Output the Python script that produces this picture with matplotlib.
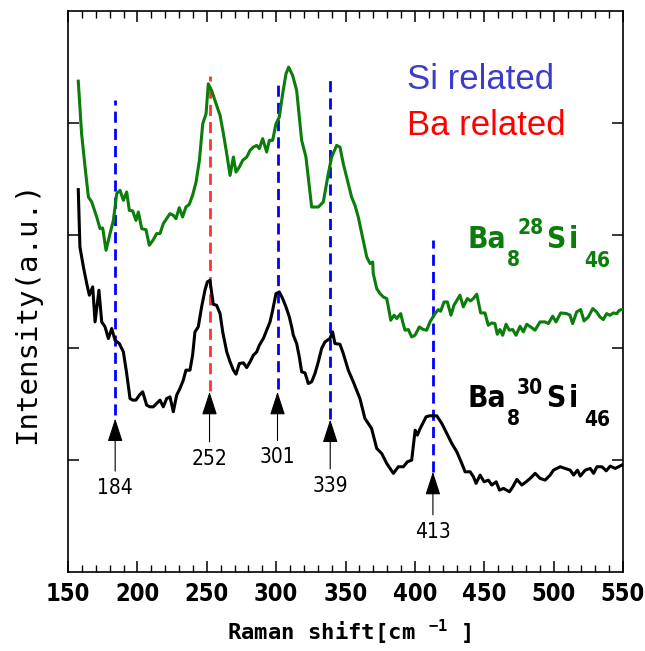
import numpy as np
import matplotlib
matplotlib.use('Agg')
import matplotlib.pyplot as plt
from matplotlib import font_manager
from matplotlib.font_manager import FontProperties
from matplotlib.ticker import MultipleLocator, NullFormatter

# buscar una fuente sans estrecha (Narrow / Condensed) instalada
def find_narrow(bold):
    best = None
    for f in font_manager.fontManager.ttflist:
        narrowish = ('Narrow' in f.name or 'Condensed' in f.name
                     or f.stretch in ('condensed', 'semi-condensed', 'extra-condensed'))
        if not narrowish or f.style != 'normal':
            continue
        if 'Serif' in f.name or 'Mono' in f.name:
            continue
        w = f.weight if isinstance(f.weight, int) else (700 if 'bold' in str(f.weight) else 400)
        if (w >= 700) != bold:
            continue
        if best is None or f.name in ('DejaVu Sans', 'Liberation Sans Narrow'):
            best = f
    return best

nb = find_narrow(True)
nr = find_narrow(False)
FOUND = nb is not None and nr is not None
def fp(bold, size):
    if FOUND:
        return FontProperties(fname=(nb if bold else nr).fname, size=size)
    return FontProperties(family='DejaVu Sans', weight='bold' if bold else 'normal',
                          size=size * 0.9)

plt.rcParams['mathtext.default'] = 'regular'

# Ba8(28)Si46 (verde)
x_28 = [157.4, 159.8, 162.3, 164.7, 167.1, 170.7, 173.1, 175.0, 177.4, 180.3,
        182.7, 185.1, 187.5, 189.9, 192.3, 194.2, 196.6, 199.0, 200.7, 203.1,
        206.2, 208.6, 211.5, 213.9, 216.3, 218.7, 221.1, 223.5, 225.9, 227.8,
        230.2, 232.6, 235.0, 237.4, 239.8, 242.3, 244.7, 247.1, 249.5, 251.1,
        253.5, 255.9, 259.6, 262.0, 264.4, 266.8, 269.2, 271.1, 273.5, 275.9,
        278.8, 281.2, 283.6, 286.0, 287.9, 290.3, 293.2, 295.1, 297.5, 299.9,
        302.3, 304.7, 307.1, 309.0, 311.9, 314.8, 318.4, 321.5, 325.6, 330.4,
        334.0, 337.6, 340.0, 343.6, 346.0, 348.4, 350.8, 354.4, 356.8, 359.2,
        362.8, 365.3, 367.7, 369.6, 370.0, 372.5, 374.9, 377.3, 379.7, 380.9,
        382.6, 385.0, 386.9, 389.8, 391.2, 392.9, 395.3, 397.7, 400.1, 403.2,
        406.1, 408.5, 410.9, 414.5, 416.9, 418.6, 421.0, 423.4, 426.0, 428.2,
        430.6, 432.5, 434.9, 437.8, 440.2, 442.1, 444.6, 447.4, 450.5, 452.9,
        455.4, 457.7, 459.4, 461.3, 463.3, 465.7, 468.1, 470.5, 472.9, 475.8,
        478.2, 480.6, 483.5, 486.6, 490.2, 493.8, 496.2, 499.3, 501.7, 505.1,
        509.4, 511.8, 513.7, 516.6, 519.5, 521.9, 525.0, 528.2, 531.0, 533.4,
        535.8, 538.2, 540.6, 543.0, 545.5, 547.4, 549.1]
y_28 = [4.375, 3.906, 3.609, 3.342, 3.298, 3.164, 3.060, 3.066, 2.867, 3.016,
        3.134, 3.372, 3.402, 3.313, 3.387, 3.223, 3.218, 3.134, 3.209, 3.060,
        3.051, 2.912, 2.962, 3.016, 3.016, 3.105, 3.149, 3.194, 3.179, 3.149,
        3.247, 3.164, 3.253, 3.277, 3.357, 3.476, 3.669, 3.995, 4.084, 4.351,
        4.292, 4.203, 4.069, 3.906, 3.728, 3.535, 3.698, 3.565, 3.609, 3.669,
        3.698, 3.758, 3.787, 3.802, 3.773, 3.862, 3.743, 3.847, 3.847, 3.995,
        4.055, 4.262, 4.440, 4.500, 4.426, 4.292, 3.847, 3.698, 3.253, 3.253,
        3.298, 3.550, 3.698, 3.802, 3.787, 3.639, 3.520, 3.342, 3.268, 3.164,
        2.956, 2.808, 2.749, 2.763, 2.660, 2.526, 2.481, 2.451, 2.437, 2.363,
        2.244, 2.289, 2.259, 2.303, 2.229, 2.155, 2.161, 2.095, 2.110, 2.184,
        2.161, 2.155, 2.229, 2.303, 2.339, 2.324, 2.407, 2.407, 2.289, 2.378,
        2.428, 2.467, 2.363, 2.437, 2.416, 2.437, 2.476, 2.309, 2.309, 2.199,
        2.220, 2.214, 2.119, 2.161, 2.110, 2.208, 2.155, 2.161, 2.110, 2.190,
        2.140, 2.208, 2.184, 2.155, 2.229, 2.229, 2.214, 2.280, 2.229, 2.309,
        2.303, 2.289, 2.214, 2.318, 2.339, 2.238, 2.273, 2.348, 2.318, 2.273,
        2.250, 2.303, 2.288, 2.309, 2.303, 2.333, 2.339]

# Ba8(30)Si46 (negro)
x_30 = [157.4, 158.6, 161.1, 163.5, 165.4, 167.8, 169.5, 172.3, 174.3, 176.7,
        179.1, 181.5, 183.9, 187.0, 189.9, 192.3, 194.7, 196.6, 199.0, 201.4,
        203.8, 206.7, 209.1, 211.5, 213.9, 216.3, 218.7, 221.1, 223.5, 225.9,
        228.3, 230.7, 233.1, 235.0, 237.9, 239.8, 241.5, 243.9, 246.3, 248.7,
        250.4, 252.3, 254.7, 257.1, 259.6, 261.5, 264.4, 266.8, 269.2, 271.1,
        273.5, 276.4, 278.8, 281.2, 283.6, 286.0, 287.9, 290.8, 293.2, 295.6,
        297.5, 299.9, 302.3, 304.7, 307.1, 309.5, 311.2, 312.4, 314.8, 316.7,
        318.4, 320.8, 323.2, 325.6, 328.0, 330.4, 332.8, 335.2, 338.8, 340.7,
        342.4, 346.0, 348.4, 352.0, 355.6, 360.4, 364.0, 368.8, 372.5, 376.1,
        379.7, 384.5, 388.1, 391.7, 394.6, 397.7, 400.2, 401.8, 403.8, 408.1,
        410.5, 415.8, 419.4, 423.0, 426.6, 430.2, 433.8, 436.2, 439.8, 442.2,
        444.1, 447.0, 449.9, 453.0, 455.4, 458.6, 461.0, 463.9, 468.2, 470.6,
        473.5, 477.1, 480.2, 483.1, 486.7, 490.3, 493.9, 497.5, 499.9, 504.7,
        508.3, 511.9, 514.4, 517.2, 519.2, 522.8, 526.4, 528.8, 531.2, 534.8,
        537.9, 540.8, 544.4, 549.2]
y_30 = [3.408, 2.897, 2.719, 2.570, 2.467, 2.541, 2.229, 2.511, 2.229, 2.185,
        2.081, 2.170, 2.066, 2.036, 1.962, 1.769, 1.546, 1.532, 1.532, 1.576,
        1.606, 1.487, 1.472, 1.472, 1.502, 1.532, 1.472, 1.546, 1.561, 1.428,
        1.576, 1.636, 1.710, 1.799, 1.799, 1.932, 2.140, 2.185, 2.363, 2.511,
        2.585, 2.600, 2.386, 2.377, 2.303, 2.140, 1.962, 1.873, 1.799, 1.763,
        1.858, 1.864, 1.822, 1.873, 1.932, 1.962, 2.021, 2.081, 2.155, 2.229,
        2.333, 2.481, 2.496, 2.437, 2.363, 2.274, 2.185, 2.110, 2.036, 1.917,
        1.784, 1.775, 1.680, 1.695, 1.769, 1.873, 1.992, 2.051, 2.081, 2.140,
        2.036, 2.030, 1.947, 1.799, 1.695, 1.546, 1.368, 1.279, 1.101, 1.056,
        0.968, 0.879, 0.938, 0.938, 0.982, 0.997, 1.264, 1.220, 1.279, 1.383,
        1.392, 1.392, 1.324, 1.235, 1.146, 1.072, 0.968, 0.893, 0.893, 0.849,
        0.790, 0.864, 0.804, 0.819, 0.775, 0.804, 0.730, 0.745, 0.715, 0.760,
        0.825, 0.775, 0.804, 0.834, 0.879, 0.834, 0.819, 0.864, 0.908, 0.938,
        0.923, 0.908, 0.864, 0.908, 0.855, 0.908, 0.923, 0.879, 0.938, 0.938,
        0.902, 0.944, 0.923, 0.953]

# picos marcados
peaks = [184, 252, 301, 339, 413]
peak_colors = ['#0000ff', '#ff3333', '#0000ff', '#0000ff', '#0000ff']
dash_bottom = [1.398, 1.615, 1.635, 1.368, 0.893]
dash_top = [4.209, 4.417, 4.357, 4.426, 2.962]
arrow_tip = [1.368, 1.606, 1.606, 1.359, 0.893]
label_y = [0.748, 1.009, 1.021, 0.768, 0.359]

fig = plt.figure(figsize=(6.45, 6.51), dpi=100)
ax = fig.add_axes([68/645, 1 - 572/651, 555/645, 561/651])

for p, c, y0, y1 in zip(peaks, peak_colors, dash_bottom, dash_top):
    ax.plot([p, p], [y0, y1], color=c, lw=2.0, dashes=(4, 2.2), zorder=1)

ax.plot(x_28, y_28, color='#0a7d0a', lw=2.2, zorder=3)
ax.plot(x_30, y_30, color='black', lw=2.2, zorder=3)

for p, tip, ly in zip(peaks, arrow_tip, label_y):
    ax.annotate(str(p), xy=(p, tip), xytext=(p, ly), ha='center', va='center',
                fontproperties=fp(False, 15),
                arrowprops=dict(arrowstyle='-|>,head_length=1.45,head_width=0.47',
                                color='black', lw=0.8, shrinkA=3, shrinkB=0,
                                mutation_scale=10))

ax.text(394.5, 4.39, 'Si related', color='#3c3cc8', fontsize=25,
        family='Liberation Sans', ha='left', va='center')
ax.text(394.5, 3.98, 'Ba related', color='#ff0000', fontsize=25,
        family='Liberation Sans', ha='left', va='center')

# etiquetas de muestra
def sample_label(y_base, iso, color):
    kw = dict(color=color, va='baseline')
    ax.text(438.1, y_base, 'Ba', fontproperties=fp(True, 21.5), ha='left', **kw)
    ax.text(466.5, y_base - 0.16, '8', fontproperties=fp(True, 15), ha='left', **kw)
    ax.text(492.5, y_base + 0.12, iso, fontproperties=fp(True, 15), ha='right', **kw)
    ax.text(494.3, y_base, 'S', fontproperties=fp(True, 21.5), ha='left', **kw)
    ax.text(511.0, y_base, 'i', fontproperties=fp(True, 21.5), ha='left', **kw)
    ax.text(522.3, y_base - 0.17, '46', fontproperties=fp(True, 15), ha='left', **kw)

sample_label(2.891, '28', '#0a7d0a')
sample_label(1.467, '30', 'black')

ax.set_xlim(150, 550)
ax.set_ylim(0, 5)
ax.xaxis.set_major_locator(MultipleLocator(50))
ax.xaxis.set_minor_locator(MultipleLocator(10))
ax.set_yticks([1, 2, 3, 4])
ax.yaxis.set_major_formatter(NullFormatter())
ax.tick_params(axis='both', which='both', direction='in', top=True, right=True)
ax.tick_params(which='major', length=8, width=1.1)
ax.tick_params(which='minor', length=5, width=1.0)
ax.tick_params(axis='x', pad=7)
for lab in ax.get_xticklabels():
    lab.set_fontproperties(fp(True, 17))
for s in ax.spines.values():
    s.set_linewidth(1.2)

ax.set_xlabel(r'Raman shift[cm $^{-1}$ ]', family='DejaVu Sans Mono',
              weight='bold', fontsize=16)
ax.xaxis.set_label_coords(0.506, -0.108)
ax.xaxis.label.set_verticalalignment('center')
ax.set_ylabel('Intensity(a.u.)', family='DejaVu Sans Mono', fontsize=21)
ax.yaxis.set_label_coords(-0.074, 0.463)
ax.yaxis.label.set_verticalalignment('center')

fig.savefig('out.png', dpi=100)
